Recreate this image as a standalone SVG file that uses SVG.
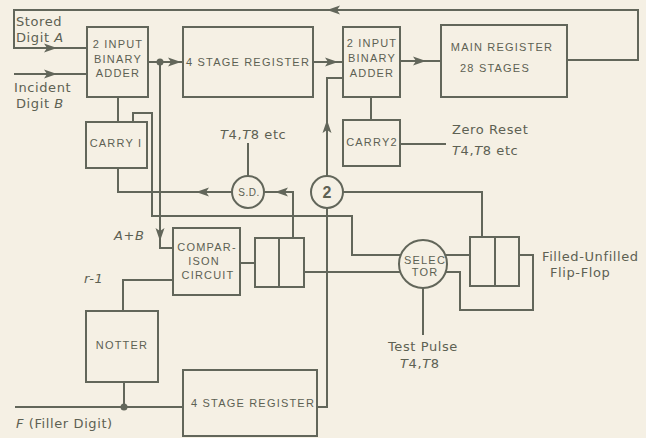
<svg xmlns="http://www.w3.org/2000/svg" xmlns:xlink="http://www.w3.org/1999/xlink" width="646" height="438" viewBox="0 0 646 438">
<style>
.ln{fill:none;stroke:#62665a;stroke-width:2;stroke-linejoin:miter}
.bx{fill:none;stroke:#62665a;stroke-width:2}
.ah{fill:#62665a}
.bt{font-family:"Liberation Sans",Arial,sans-serif;font-size:11px;letter-spacing:1.2px;fill:#5d6153;text-anchor:middle}
.lb{font-family:"DejaVu Sans",sans-serif;font-size:13px;letter-spacing:0.6px;fill:#5d6153}
.it{font-style:italic}
</style>
<defs>
<path id="ah" d="M0,0 L-13,-4.5 L-10,0 L-13,4.5 Z"/>
</defs>
<rect width="646" height="438" fill="#f5f0e4"/>
<g id="connectors">
<path class="ln" d="M567,60 H638 V10 H14 V48 H87"/>
<path class="ln" d="M14,74 H87"/>
<path class="ln" d="M148,62 H183"/>
<path class="ln" d="M160,62 V248 H173"/>
<path class="ln" d="M118,97 V122"/>
<path class="ln" d="M133,122 V113 H152 V216 H352 V255 H401"/>
<path class="ln" d="M118,168 V192 H232"/>
<path class="ln" d="M293,238 V192 H264"/>
<path class="ln" d="M248,176 V143"/>
<path class="ln" d="M240,263 H255"/>
<path class="ln" d="M173,280 H123 V311"/>
<path class="ln" d="M124,382 V407"/>
<path class="ln" d="M15,407 H183"/>
<path class="ln" d="M317,407 H327 V208"/>
<path class="ln" d="M327,176 V78 H343"/>
<path class="ln" d="M313,62 H343"/>
<path class="ln" d="M400,61 H441"/>
<path class="ln" d="M371,97 V120"/>
<path class="ln" d="M400,144 H446"/>
<path class="ln" d="M304,272 H401"/>
<path class="ln" d="M343,192 H482 V237"/>
<path class="ln" d="M445,255 H470"/>
<path class="ln" d="M445,272 H460 V310 H533 V255 H519"/>
<path class="ln" d="M423,288 V335"/>
<circle class="ah" cx="160" cy="62" r="3.5"/>
<circle class="ah" cx="124" cy="407" r="3.5"/>
<use class="ah" xlink:href="#ah" transform="translate(57,48)"/>
<use class="ah" xlink:href="#ah" transform="translate(57,74)"/>
<use class="ah" xlink:href="#ah" transform="translate(181,62)"/>
<use class="ah" xlink:href="#ah" transform="translate(338,62)"/>
<use class="ah" xlink:href="#ah" transform="translate(426,61)"/>
<use class="ah" xlink:href="#ah" transform="translate(327,10) rotate(180)"/>
<use class="ah" xlink:href="#ah" transform="translate(327,120) rotate(-90)"/>
<use class="ah" xlink:href="#ah" transform="translate(196,192) rotate(180)"/>
<use class="ah" xlink:href="#ah" transform="translate(275,192) rotate(180)"/>
<use class="ah" xlink:href="#ah" transform="translate(160,241) rotate(90)"/>
</g>
<g id="adder1"><rect class="bx" x="87" y="27" width="61" height="70"/>
<text class="bt" x="118" y="48">2 INPUT</text><text class="bt" x="118" y="63">BINARY</text><text class="bt" x="118" y="77">ADDER</text></g>
<g id="register1"><rect class="bx" x="183" y="27" width="130" height="70"/>
<text class="bt" x="248" y="66">4 STAGE REGISTER</text></g>
<g id="adder2"><rect class="bx" x="343" y="27" width="57" height="70"/>
<text class="bt" x="372" y="47">2 INPUT</text><text class="bt" x="372" y="62">BINARY</text><text class="bt" x="372" y="77">ADDER</text></g>
<g id="mainregister"><rect class="bx" x="441" y="25" width="126" height="72"/>
<text class="bt" x="502" y="51">MAIN REGISTER</text><text class="bt" x="495" y="72">28 STAGES</text></g>
<g id="carry1"><rect class="bx" x="86" y="122" width="61" height="46"/>
<text class="bt" x="116" y="147">CARRY I</text></g>
<g id="carry2"><rect class="bx" x="343" y="120" width="57" height="46"/>
<text class="bt" x="372" y="146">CARRY2</text></g>
<g id="sd"><circle class="bx" cx="248" cy="192" r="16"/>
<text class="bt" x="249" y="196" style="font-size:10px;letter-spacing:0.5px">S.D.</text></g>
<g id="circle2"><circle class="bx" cx="327" cy="192" r="16"/>
<text class="bt" x="327" y="198" style="font-size:16px;font-weight:bold;letter-spacing:0">2</text></g>
<g id="comparison"><rect class="bx" x="173" y="228" width="67" height="67"/>
<text class="bt" x="207" y="251">COMPAR-</text><text class="bt" x="204" y="265">ISON</text><text class="bt" x="208" y="279">CIRCUIT</text></g>
<g id="flipflop1"><rect class="bx" x="255" y="238" width="49" height="49"/><path class="ln" d="M279,238 V287"/></g>
<g id="selector"><circle class="bx" cx="423" cy="264" r="24"/>
<text class="bt" x="425" y="264">SELEC</text><text class="bt" x="425" y="276">TOR</text></g>
<g id="flipflop2"><rect class="bx" x="470" y="237" width="49" height="49"/><path class="ln" d="M495,237 V286"/></g>
<g id="notter"><rect class="bx" x="86" y="311" width="72" height="71"/>
<text class="bt" x="122" y="349">NOTTER</text></g>
<g id="register2"><rect class="bx" x="183" y="370" width="134" height="66"/>
<text class="bt" x="253" y="407">4 STAGE REGISTER</text></g>
<g id="labels">
<text class="lb" x="16" y="26">Stored</text>
<text class="lb" x="16" y="42">Digit <tspan class="it">A</tspan></text>
<text class="lb" x="14" y="92">Incident</text>
<text class="lb" x="16" y="108">Digit <tspan class="it">B</tspan></text>
<text class="lb" x="220" y="139"><tspan class="it">T</tspan>4,<tspan class="it">T</tspan>8 etc</text>
<text class="lb" x="452" y="134">Zero Reset</text>
<text class="lb" x="452" y="155"><tspan class="it">T</tspan>4,<tspan class="it">T</tspan>8 etc</text>
<text class="lb it" x="114" y="240">A+B</text>
<text class="lb it" x="84" y="283">r-1</text>
<text class="lb" x="542" y="261">Filled-Unfilled</text>
<text class="lb" x="550" y="277">Flip-Flop</text>
<text class="lb" x="388" y="351">Test Pulse</text>
<text class="lb" x="400" y="368"><tspan class="it">T</tspan>4,<tspan class="it">T</tspan>8</text>
<text class="lb" x="16" y="428"><tspan class="it">F</tspan> (Filler Digit)</text>
</g>
</svg>
